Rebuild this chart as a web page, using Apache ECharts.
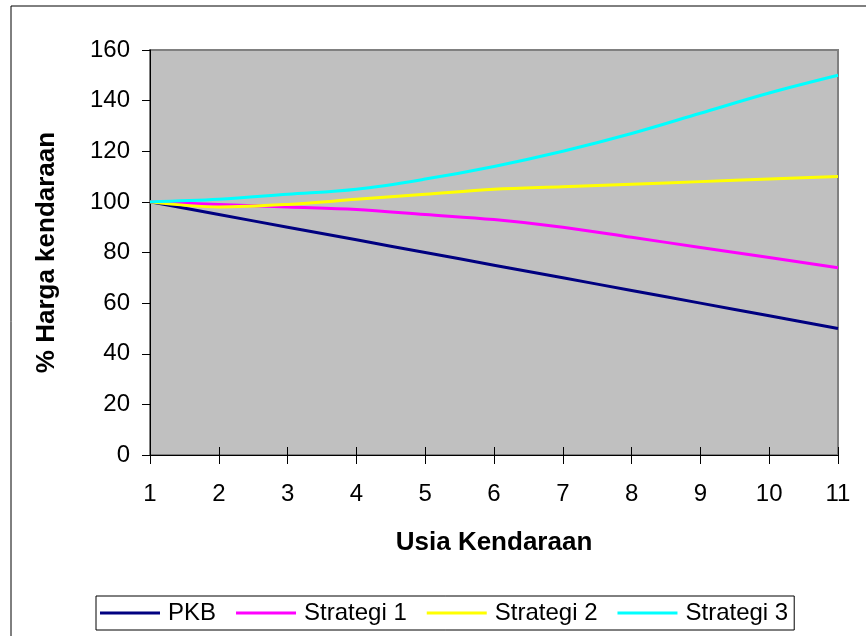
<!DOCTYPE html>
<html>
<head>
<meta charset="utf-8">
<script src="https://cdn.jsdelivr.net/npm/echarts@6/dist/echarts.min.js"></script>
<style>
  html, body { margin: 0; padding: 0; background: #fff; }
  #main { width: 866px; height: 636px; }
</style>
</head>
<body>
<div id="main"></div>
<script>
// data
let usia = ['1', '2', '3', '4', '5', '6', '7', '8', '9', '10', '11'];
let pkb = [100, 95, 90, 85, 80, 75, 70, 65, 60, 55, 50];
let strategi1 = [100, 99, 98, 97, 95, 93, 90, 86, 82, 78, 74];
let strategi2 = [100, 98, 99, 101, 103, 105, 106, 107, 108, 109, 110];
let strategi3 = [100, 101, 103, 105, 109, 114, 120, 127, 135, 143, 150];
let yTicks = [0, 20, 40, 60, 80, 100, 120, 140, 160];

let font = 'Arial, "Liberation Sans", sans-serif';

function lineSeries(name, data, color) {
    return {
        name: name,
        type: 'line',
        data: data,
        smooth: 0.35,
        symbol: 'none',
        lineStyle: { color: color, width: 3 },
        itemStyle: { color: color }
    };
}

let myChart = echarts.init(document.getElementById('main'));
let option = {
    animation: false,
    backgroundColor: '#fff',
    textStyle: { fontFamily: font },
    graphic: [{
        type: 'rect',
        shape: { x: 11, y: 6, width: 900, height: 700 },
        style: { fill: 'none', stroke: '#000', lineWidth: 1 },
        silent: true
    }],
    grid: {
        left: 150, right: 28, top: 50, bottom: 181,
        show: true,
        backgroundColor: '#C0C0C0',
        borderColor: '#808080',
        borderWidth: 2
    },
    legend: {
        bottom: 6,
        left: 96,
        padding: [5, 6, 5, 4],
        borderColor: '#000',
        borderWidth: 1,
        backgroundColor: '#fff',
        itemWidth: 60,
        itemHeight: 3,
        itemGap: 20,
        icon: 'rect',
        textStyle: { fontSize: 24, color: '#000', fontFamily: font, padding: [0, 0, 0, 3] },
        data: ['PKB', 'Strategi 1', 'Strategi 2', 'Strategi 3']
    },
    xAxis: [{
        type: 'category',
        data: usia,
        boundaryGap: false,
        name: 'Usia Kendaraan',
        nameLocation: 'middle',
        nameGap: 75,
        nameTextStyle: { fontSize: 26, fontWeight: 'bold', color: '#000' },
        axisLine: { lineStyle: { color: '#000', width: 1 } },
        axisTick: { length: 9, lineStyle: { color: '#000' } },
        axisLabel: { fontSize: 24, color: '#000', margin: 27 },
        splitLine: { show: false }
    }, {
        type: 'category',
        data: usia,
        boundaryGap: false,
        position: 'bottom',
        axisLine: { show: false },
        axisTick: { inside: true, length: 8, lineStyle: { color: '#000' } },
        axisLabel: { show: false },
        splitLine: { show: false }
    }],
    yAxis: {
        type: 'value',
        min: yTicks[0],
        max: yTicks[yTicks.length - 1],
        interval: 20,
        name: '% Harga kendaraan',
        nameLocation: 'middle',
        nameGap: 90,
        nameTextStyle: { fontSize: 26, fontWeight: 'bold', color: '#000' },
        axisLine: { show: true, lineStyle: { color: '#000', width: 1 } },
        axisTick: { show: true, length: 8, lineStyle: { color: '#000' } },
        axisLabel: { fontSize: 24, color: '#000', margin: 20 },
        splitLine: { show: false }
    },
    series: [
        lineSeries('PKB', pkb, '#000080'),
        lineSeries('Strategi 1', strategi1, '#FF00FF'),
        lineSeries('Strategi 2', strategi2, '#FFFF00'),
        lineSeries('Strategi 3', strategi3, '#00FFFF')
    ]
};
myChart.setOption(option, true);
</script>
</body>
</html>
